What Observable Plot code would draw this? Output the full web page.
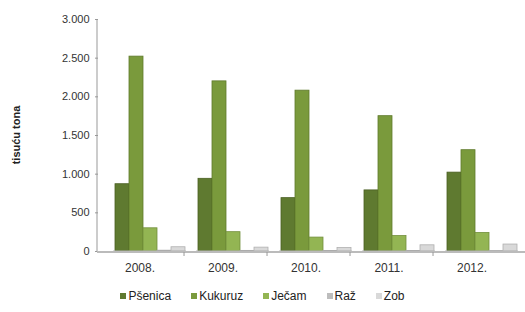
<!DOCTYPE html>
<html>
<head>
<meta charset="utf-8">
<script src="https://cdn.jsdelivr.net/npm/d3@7"></script>
<script src="https://cdn.jsdelivr.net/npm/@observablehq/plot@0.6"></script>
<style>
  body { margin: 0; background: #fff; font-family: "Liberation Sans", Arial, sans-serif; }
  #wrap { position: relative; width: 525px; height: 312px; }
  #legend { position: absolute; left: 0; top: 289px; width: 525px; display: flex; justify-content: center; gap: 20px; font-size: 12px; color: #222; padding-left: 40px; padding-right: 40px; box-sizing: border-box; }
  #legend span.sw { display: inline-block; width: 6px; height: 6px; margin-right: 2px; vertical-align: 1px; }
</style>
</head>
<body>
<div id="wrap"></div>
<script>
const years = ["2008.", "2009.", "2010.", "2011.", "2012."];
const series = ["Pšenica", "Kukuruz", "Ječam", "Raž", "Zob"];
const psenica = [870, 940, 690, 790, 1020];
const kukuruz = [2520, 2200, 2080, 1750, 1310];
const jecam = [300, 250, 180, 200, 240];
const raz = [10, 8, 6, 6, 5];
const zob = [55, 50, 45, 80, 90];
const colors = ["#5f7a30", "#7a9a3c", "#93b553", "#bdbdbd", "#d9d9d9"];
const strokes = ["#4a5f22", "#5f7a2c", "#728f3c", "#9a9a9a", "#b0b0b0"];
const yTicks = [0, 500, 1000, 1500, 2000, 2500, 3000];

const values = [psenica, kukuruz, jecam, raz, zob];
const data = [];
years.forEach((y, i) => series.forEach((s, j) => data.push({year: y, series: s, value: values[j][i]})));

const fmt = v => v === 0 ? "0" : d3.format(",")(v).replace(/,/g, ".");
const AXIS_SHIFT = 15;

const chart = Plot.plot({
  width: 525,
  height: 285,
  marginLeft: 97 + AXIS_SHIFT,
  marginRight: 5,
  marginTop: 19,
  marginBottom: 34,
  style: { fontFamily: "Liberation Sans, Arial, sans-serif", fontSize: "11px", color: "#333", background: "#fff" },
  fx: { domain: years, padding: 0.12, label: null, axis: null },
  x: { domain: series, padding: 0.02, axis: null },
  y: { domain: [0, 3000], label: null },
  color: { domain: series, range: colors },
  marks: [
    Plot.barY(data, { fx: "year", x: "series", y: "value", fill: "series", stroke: d => strokes[series.indexOf(d.series)], strokeWidth: 0.8 }),
    Plot.ruleY([0], { stroke: "#bbb", strokeWidth: 2 }),
    Plot.axisY({ ticks: yTicks, tickFormat: fmt, tickSize: 3, tickPadding: 6, stroke: "#999", label: null, facetAnchor: "left", dx: -AXIS_SHIFT }),
    Plot.axisFx({ anchor: "bottom", tickSize: 0, tickPadding: 12, label: null, dx: -10, fontSize: 12 })
  ]
});

const wrap = document.getElementById("wrap");
wrap.appendChild(chart);

const svg = d3.select(chart);
const ys = chart.scale("y");
const fxs = chart.scale("fx");
const yAt = v => ys.apply(v);
const axisX = 97;
// y-axis line
svg.append("line")
  .attr("x1", axisX).attr("x2", axisX)
  .attr("y1", yAt(0)).attr("y2", yAt(3000))
  .attr("stroke", "#999");
// x baseline across groups
svg.append("line")
  .attr("x1", axisX).attr("x2", 525)
  .attr("y1", yAt(0) + 1).attr("y2", yAt(0) + 1)
  .attr("stroke", "#bbb").attr("stroke-width", 2);
// tick marks between groups
years.slice(1).forEach(y => {
  const xb = fxs.apply(y) - fxs.step * fxs.paddingInner / 2 + 1;
  svg.append("line").attr("x1", xb - 8).attr("x2", xb - 8)
    .attr("y1", yAt(0) + 1).attr("y2", yAt(0) + 5).attr("stroke", "#999");
});

// Y axis title
svg.append("text")
  .attr("transform", "translate(20,135) rotate(-90)")
  .attr("text-anchor", "middle")
  .attr("font-weight", "bold")
  .attr("font-size", "11px")
  .attr("fill", "#222")
  .text("tisuću tona");

const legend = document.createElement("div");
legend.id = "legend";
series.forEach((s, j) => {
  const item = document.createElement("span");
  item.innerHTML = `<span class="sw" style="background:${colors[j]}"></span>${s}`;
  legend.appendChild(item);
});
wrap.appendChild(legend);
</script>
</body>
</html>
